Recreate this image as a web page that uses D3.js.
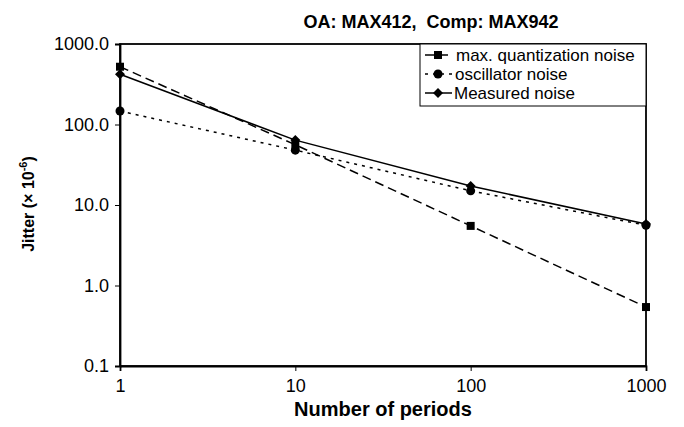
<!DOCTYPE html>
<html>
<head>
<meta charset="utf-8">
<script src="https://cdnjs.cloudflare.com/ajax/libs/d3/7.8.5/d3.min.js"></script>
<style>
  body { margin: 0; background: #fff; }
  svg text { font-family: Arial, "Liberation Sans", sans-serif; fill: #000; white-space: pre; }
</style>
</head>
<body>
<div id="chart"></div>
<script>
// DATA
var periods = [1, 10, 100, 1000]
var quantNoise = [522, 56, 5.5, 0.54]
var oscNoise = [147, 48, 15, 5.6]
var measNoise = [421, 64, 17.2, 5.8]
var yTicks = [0.1, 1, 10, 100, 1000]
var seriesNames = ['max. quantization noise', 'oscillator noise', 'Measured noise']

// SIZING
var margin = { top: 44, right: 38, bottom: 61, left: 120 }
var W = 684, H = 427
var width = W - margin.left - margin.right
var height = H - margin.top - margin.bottom

var svg = d3.select('#chart')
  .append('svg')
  .attr('width', W)
  .attr('height', H)

var g = svg.append('g')
  .attr('transform', 'translate(' + margin.left + ',' + margin.top + ')')

// SCALES
var x = d3.scaleLog().domain([1, 1000]).range([0, width])
var y = d3.scaleLog().domain([0.1, 1000]).range([height, 0])

// AXES
var xAxis = g.append('g')
  .attr('transform', 'translate(0,' + height + ')')
  .call(d3.axisBottom(x).tickValues(periods).tickFormat(d3.format('d')).tickSizeOuter(0).tickSize(5).tickPadding(8))
xAxis.selectAll('text').attr('font-size', 18)

var yAxis = g.append('g')
  .call(d3.axisLeft(y).tickValues(yTicks).tickFormat(d3.format('.1f')).tickSizeOuter(0).tickSize(5).tickPadding(6))
yAxis.selectAll('text').attr('font-size', 18)

svg.selectAll('.domain').attr('stroke', '#000').attr('stroke-width', 1.8)
svg.selectAll('.tick line').attr('stroke', '#000')

// PLOT BORDER
g.append('rect')
  .attr('width', width)
  .attr('height', height)
  .attr('fill', 'none')
  .attr('stroke', '#000')
  .attr('stroke-width', 1.8)

// LINES
var series = [
  { name: seriesNames[0], values: quantNoise, dash: '9,5', marker: 'square' },
  { name: seriesNames[1], values: oscNoise, dash: '3,5', marker: 'circle' },
  { name: seriesNames[2], values: measNoise, dash: null, marker: 'diamond' }
]

var line = d3.line()
  .x(function(d) { return x(d[0]) })
  .y(function(d) { return y(d[1]) })

var symbols = {
  square: { path: d3.symbol().type(d3.symbolSquare).size(64), rot: 0 },
  circle: { path: d3.symbol().type(d3.symbolCircle).size(64), rot: 0 },
  diamond: { path: d3.symbol().type(d3.symbolSquare).size(50), rot: 45 }
}

function addMarker(sel, m, cx, cy) {
  sel.append('path')
    .attr('d', symbols[m].path)
    .attr('transform', 'translate(' + cx + ',' + cy + ') rotate(' + symbols[m].rot + ')')
    .attr('fill', '#000')
}

series.forEach(function(s) {
  var pts = periods.map(function(p, i) { return [p, s.values[i]] })
  g.append('path')
    .datum(pts)
    .attr('d', line)
    .attr('fill', 'none')
    .attr('stroke', '#000')
    .attr('stroke-width', 1.5)
    .attr('stroke-dasharray', s.dash)
  pts.forEach(function(d) {
    addMarker(g, s.marker, x(d[0]), y(d[1]))
  })
})

// LEGEND
var lg = g.append('g').attr('transform', 'translate(' + (width - 226) + ',0)')
lg.append('rect')
  .attr('width', 226)
  .attr('height', 62)
  .attr('fill', '#fff')
  .attr('stroke', '#000')
  .attr('stroke-width', 1)
series.forEach(function(s, i) {
  var yy = 11 + i * 19
  lg.append('line')
    .attr('x1', 5).attr('x2', 32)
    .attr('y1', yy).attr('y2', yy)
    .attr('stroke', '#000')
    .attr('stroke-width', 1.5)
    .attr('stroke-dasharray', s.dash)
  addMarker(lg, s.marker, 18, yy)
  lg.append('text')
    .attr('x', 36 - i)
    .attr('y', yy + 6)
    .attr('font-size', 17)
    .text(s.name)
})

// TITLE
svg.append('text')
  .attr('x', 431)
  .attr('y', 28)
  .attr('text-anchor', 'middle')
  .attr('font-size', 18)
  .attr('font-weight', 'bold')
  .text('OA: MAX412,  Comp: MAX942')

// AXIS TITLES
svg.append('text')
  .attr('x', 383)
  .attr('y', 416)
  .attr('text-anchor', 'middle')
  .attr('font-size', 20)
  .attr('font-weight', 'bold')
  .text('Number of periods')

var yt = svg.append('text')
  .attr('transform', 'translate(34,204) rotate(-90)')
  .attr('text-anchor', 'middle')
  .attr('font-size', 16)
  .attr('font-weight', 'bold')
yt.append('tspan').text('Jitter (\u00d7 10')
yt.append('tspan').attr('dy', -7).attr('font-size', 11).text('-6')
yt.append('tspan').attr('dy', 7).text(')')
</script>
</body>
</html>
